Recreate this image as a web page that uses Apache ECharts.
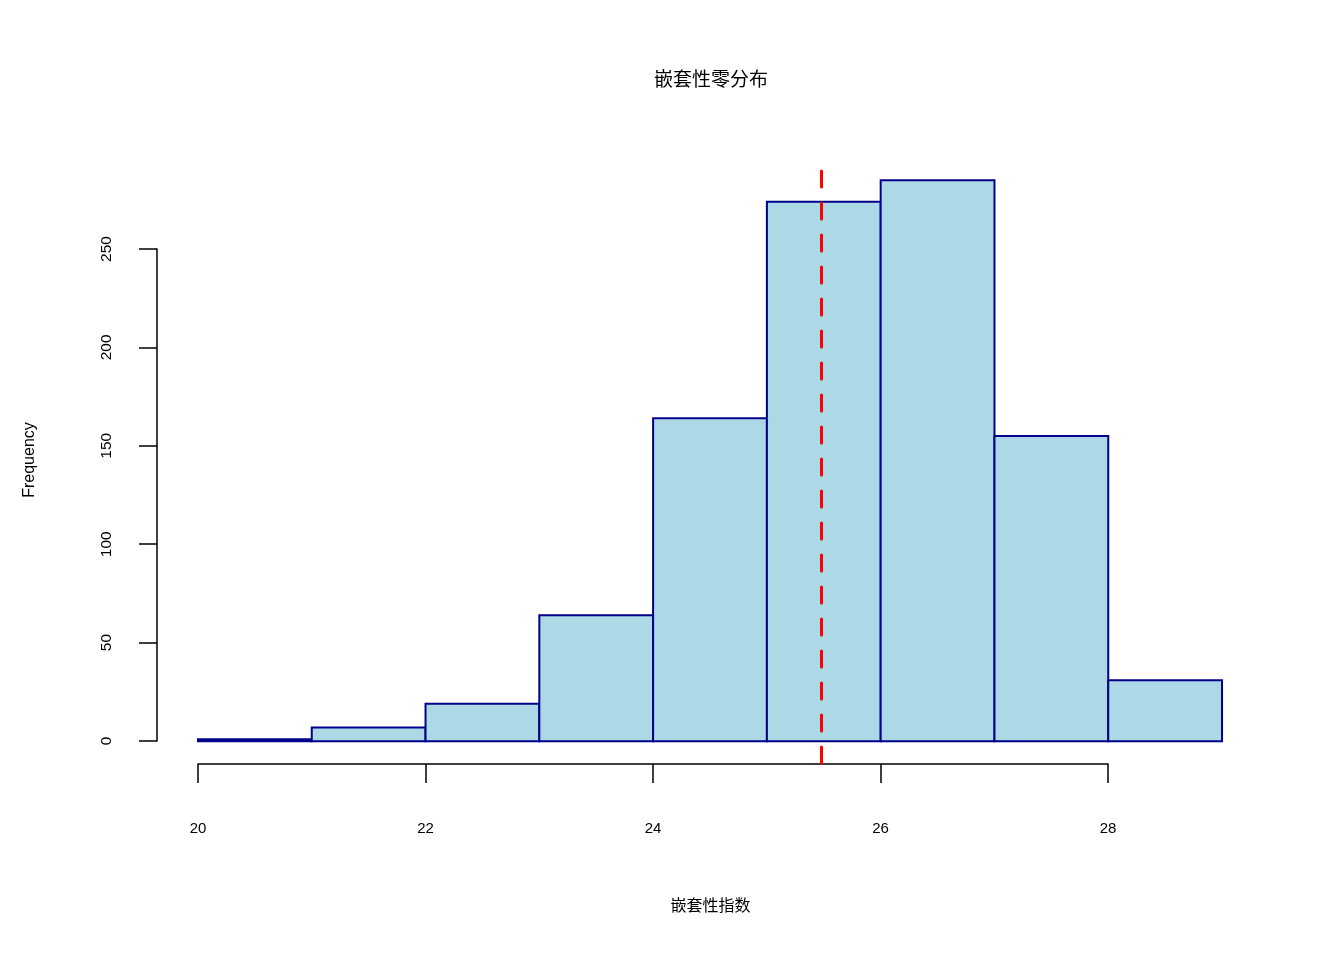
<!DOCTYPE html>
<html>
<head>
<meta charset="utf-8">
<script src="https://cdn.jsdelivr.net/npm/echarts@6/dist/echarts.min.js"></script>
<style>html,body{margin:0;padding:0;background:#fff}#c{width:1344px;height:960px}</style>
</head>
<body>
<div id="c"></div>
<script>
var breaks = [20, 21, 22, 23, 24, 25, 26, 27, 28, 29];
var counts = [1, 7, 19, 64, 164, 274, 285, 155, 31];
var observedValue = 25.48;
var lineTop = 289.6;
var titleText = '嵌套性零分布';
var xLabel = '嵌套性指数';
var yLabel = 'Frequency';
var xTicks = [20, 22, 24, 26, 28];
var yTicks = [0, 50, 100, 150, 200, 250];

var FONT = "'Liberation Sans','Noto Sans CJK SC',sans-serif";
var bins = counts.map(function (c, i) { return [breaks[i], breaks[i + 1], c]; });

var xMin = 19.64, xMax = 29.36, yMin = -11.4, yMax = 296.4;

var chart = echarts.init(document.getElementById('c'), null, {renderer: 'canvas'});
chart.setOption({
  backgroundColor: '#fff',
  animation: false,
  graphic: [
    {type: 'text', x: 711, y: 81,
     style: {text: titleText, font: '19px ' + FONT, fill: '#000', textAlign: 'center', textVerticalAlign: 'middle'}},
    {type: 'text', x: 710.5, y: 907,
     style: {text: xLabel, font: '16px ' + FONT, fill: '#000', textAlign: 'center', textVerticalAlign: 'middle'}},
    {type: 'text', x: 30, y: 460, rotation: Math.PI / 2,
     style: {text: yLabel, font: '16px ' + FONT, fill: '#000', textAlign: 'center', textVerticalAlign: 'middle'}}
  ],
  grid: [
    {left: 157, right: 81, top: 157.7, bottom: 196.3},
    {left: 198, right: 236, top: 700, bottom: 196},
    {left: 157, right: 900, top: 249, bottom: 219}
  ],
  xAxis: [
    {gridIndex: 0, type: 'value', min: xMin, max: xMax, show: false},
    {gridIndex: 1, type: 'value', min: xTicks[0], max: xTicks[xTicks.length - 1], interval: 2,
     axisLine: {show: true, onZero: false, lineStyle: {color: '#000', width: 1.5}},
     axisTick: {show: true, inside: false, length: 19, lineStyle: {color: '#000', width: 1.5}},
     axisLabel: {show: true, margin: 57, fontFamily: FONT, fontSize: 15, color: '#000'},
     splitLine: {show: false}},
    {gridIndex: 2, type: 'value', min: 0, max: 1, show: false}
  ],
  yAxis: [
    {gridIndex: 0, type: 'value', min: yMin, max: yMax, show: false},
    {gridIndex: 1, type: 'value', min: 0, max: 1, show: false},
    {gridIndex: 2, type: 'value', min: yTicks[0], max: yTicks[yTicks.length - 1], interval: 50,
     axisLine: {show: true, onZero: false, lineStyle: {color: '#000', width: 1.5}},
     axisTick: {show: true, inside: false, length: 18, lineStyle: {color: '#000', width: 1.5}},
     axisLabel: {show: true, rotate: 90, margin: 43, fontFamily: FONT, fontSize: 15.5, color: '#000'},
     splitLine: {show: false}}
  ],
  series: [
    {
      type: 'custom', xAxisIndex: 0, yAxisIndex: 0, data: bins, silent: true,
      renderItem: function (params, api) {
        var p0 = api.coord([api.value(0), api.value(2)]);
        var p1 = api.coord([api.value(1), 0]);
        return {
          type: 'rect',
          shape: {x: p0[0], y: p0[1], width: p1[0] - p0[0], height: p1[1] - p0[1]},
          style: {fill: '#ADD8E6', stroke: '#00008B', lineWidth: 2}
        };
      }
    },
    {
      type: 'line', xAxisIndex: 0, yAxisIndex: 0, silent: true, symbol: 'none',
      data: [[observedValue, lineTop], [observedValue, yMin]],
      lineStyle: {color: '#FF0000', width: 3, type: [16, 16], cap: 'round'},
      z: 5
    }
  ]
});
</script>
</body>
</html>
